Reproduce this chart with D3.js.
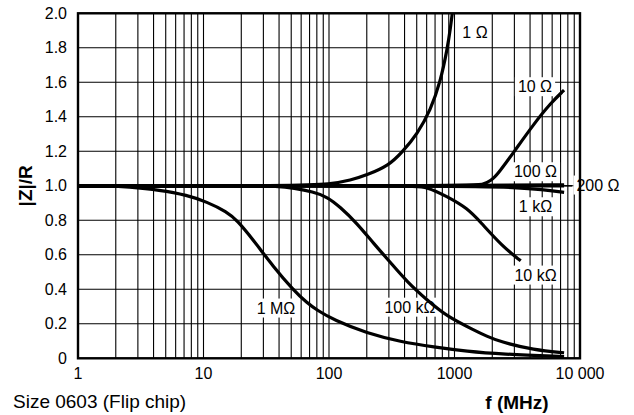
<!DOCTYPE html>
<html>
  <head>
    <meta charset="utf-8" />
    <script src="https://d3js.org/d3.v7.min.js"></script>
    <style>
        body { margin: 0; background: #fff; }
        text { font-family: "Liberation Sans", Arial, Helvetica, sans-serif; fill: #000; }
        .grid line { stroke: #000; stroke-width: 1.1; }
        .curve { fill: none; stroke: #000; stroke-width: 3.2; stroke-linecap: butt; }
    </style>
  </head>
  <body>
    <script type="text/javascript">

        // values (f in MHz, |Z|/R)
        var xTicks = [1, 10, 100, 1000, 10000];
        var xTickLabels = ["1", "10", "100", "1000", "10 000"];
        var yTicks = [0, 0.2, 0.4, 0.6, 0.8, 1.0, 1.2, 1.4, 1.6, 1.8, 2.0];
        var yTickLabels = ["0", "0.2", "0.4", "0.6", "0.8", "1.0", "1.2", "1.4", "1.6", "1.8", "2.0"];

        var r1 = [[1,1],[60,1.0],[100,1.008],[150,1.033],[200,1.062],[300,1.118],[383,1.195],[505,1.30],[645,1.44],[770,1.6],[880,1.8],[930,1.92],[960,2.0]];
        var r10 = [[1,1],[1400,1.0],[1700,1.008],[1950,1.03],[2200,1.065],[3000,1.2],[4300,1.36],[5850,1.48],[7470,1.555]];
        var r100 = [[1,1],[2000,1.0],[7470,1.006]];
        var r200 = [[1,1],[7470,1.0]];
        var r1k = [[1,1],[1500,1.0],[3000,0.99],[5000,0.978],[7470,0.962]];
        var r10k = [[1,1],[450,1.0],[600,0.995],[877,0.937],[1265,0.87],[1610,0.79],[2400,0.65],[3370,0.565]];
        var r100k = [[1,1],[20,1.0],[40,0.997],[52,0.987],[75,0.965],[96,0.937],[122,0.879],[167,0.783],[226,0.667],[309,0.555],[418,0.444],[603,0.338],[877,0.241],[1430,0.164],[1800,0.128],[2333,0.095],[4300,0.048],[7470,0.032]];
        var r1M = [[1,1],[1.8,1.0],[2.45,0.994],[4.5,0.975],[7.4,0.946],[10.6,0.907],[15.4,0.849],[18.5,0.80],[25,0.685],[36,0.531],[52,0.396],[67,0.32],[80,0.28],[109,0.222],[201,0.145],[371,0.096],[685,0.065],[1265,0.04],[2333,0.024],[7470,0.01]];

        var series = [r1M, r100k, r10k, r1k, r200, r100, r10, r1];

        // curve labels, anchored in data coordinates
        var labelNames = ["1 Ω", "10 Ω", "100 Ω", "200 Ω", "1 kΩ", "10 kΩ", "100 kΩ", "1 MΩ"];
        var labelF = [1456, 4378, 4420, 13900, 4420, 4420, 442, 37.8];
        var labelV = [1.892, 1.575, 1.082, 1.005, 0.879, 0.483, 0.297, 0.292];

        var width = 634, height = 415;
        var pLeft = 78, pRight = 580, pTop = 13.3, pBottom = 358.3;

        var svg = d3.select("body").append("svg")
            .attr("width", width)
            .attr("height", height);

        var x = d3.scaleLog().domain([1, 10000]).range([pLeft, pRight]);
        var y = d3.scaleLinear().domain([0, 2]).range([pBottom, pTop]);

        // grid
        var minor = [];
        for (var k = 0; k < 4; k++) {
            for (var m = 1; m <= 9; m++) minor.push(m * Math.pow(10, k));
        }
        minor.push(10000);

        var grid = svg.append("g").attr("class", "grid");
        grid.selectAll("line.v")
            .data(minor)
            .enter().append("line")
            .attr("class", "v")
            .attr("x1", function(d) { return x(d); })
            .attr("x2", function(d) { return x(d); })
            .attr("y1", pTop)
            .attr("y2", pBottom);
        grid.selectAll("line.h")
            .data(yTicks)
            .enter().append("line")
            .attr("class", "h")
            .attr("x1", pLeft)
            .attr("x2", pRight)
            .attr("y1", function(d) { return y(d); })
            .attr("y2", function(d) { return y(d); });

        // curve labels with white boxes (under the curves)
        var lab = svg.append("g").selectAll("g")
            .data(labelNames)
            .enter().append("g");

        lab.append("rect").attr("fill", "#fff");
        lab.append("text")
            .attr("x", function(d, i) { return x(labelF[i]); })
            .attr("y", function(d, i) { return y(labelV[i]); })
            .attr("dy", "0.35em")
            .attr("text-anchor", "middle")
            .style("font-size", "16px")
            .text(function(d) { return d; });

        lab.each(function() {
            var g = d3.select(this);
            var bb = g.select("text").node().getBBox();
            g.select("rect")
                .attr("x", bb.x - 3)
                .attr("y", bb.y - 1)
                .attr("width", bb.width + 6)
                .attr("height", bb.height + 2);
        });

        // frame
        svg.append("rect")
            .attr("x", pLeft)
            .attr("y", pTop)
            .attr("width", pRight - pLeft)
            .attr("height", pBottom - pTop)
            .attr("fill", "none")
            .attr("stroke", "#000")
            .attr("stroke-width", 2.4);

        // curves
        var line = d3.line()
            .x(function(d) { return x(d[0]); })
            .y(function(d) { return y(d[1]); })
            .curve(d3.curveBasis);

        svg.append("g").selectAll("path")
            .data(series)
            .enter().append("path")
            .attr("class", "curve")
            .attr("d", line);

        // leader from 200 Ω to its label
        svg.append("line")
            .attr("x1", x(7470))
            .attr("x2", x(7470) + 8)
            .attr("y1", y(1.0))
            .attr("y2", y(1.0))
            .attr("stroke", "#000")
            .attr("stroke-width", 1.5);

        // tick labels
        svg.append("g").selectAll("text")
            .data(xTicks)
            .enter().append("text")
            .attr("x", function(d) { return x(d); })
            .attr("y", pBottom + 21)
            .attr("text-anchor", "middle")
            .style("font-size", "16px")
            .text(function(d, i) { return xTickLabels[i]; });

        svg.append("g").selectAll("text")
            .data(yTicks)
            .enter().append("text")
            .attr("x", 67)
            .attr("y", function(d) { return y(d); })
            .attr("dy", "0.35em")
            .attr("text-anchor", "end")
            .style("font-size", "16px")
            .text(function(d, i) { return yTickLabels[i]; });

        // axis titles
        svg.append("text")
            .attr("transform", "translate(32," + y(1.0) + ") rotate(-90)")
            .attr("text-anchor", "middle")
            .style("font-size", "19px")
            .style("font-weight", "bold")
            .text("|Z|/R");

        svg.append("text")
            .attr("x", 517)
            .attr("y", 409)
            .attr("text-anchor", "middle")
            .style("font-size", "19px")
            .style("font-weight", "bold")
            .text("f (MHz)");

        svg.append("text")
            .attr("x", 13)
            .attr("y", 408)
            .style("font-size", "19px")
            .text("Size 0603 (Flip chip)");

    </script>
  </body>
</html>
